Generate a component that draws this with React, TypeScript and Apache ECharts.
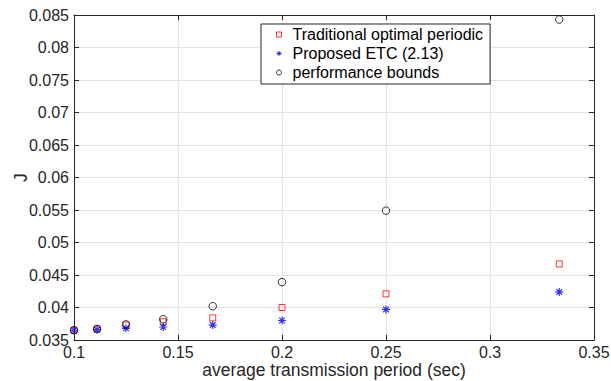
import React, { useEffect, useRef } from "react";
import * as echarts from "echarts";

const periods = [0.1, 0.1111, 0.125, 0.1429, 0.1667, 0.2, 0.25, 0.3333];
const traditional = [0.0365, 0.0367, 0.0373, 0.0378, 0.0384, 0.04, 0.0421, 0.0467];
const proposed = [0.0365, 0.0366, 0.0368, 0.037, 0.0373, 0.038, 0.0397, 0.0424];
const bounds = [0.0365, 0.0367, 0.0374, 0.0382, 0.0402, 0.0439, 0.0549, 0.0843];
const seriesNames = ["Traditional optimal periodic", "Proposed ETC (2.13)", "performance bounds"];

const STAR = "path://M0,-10L0,10M-10,0L10,0M-7.07,-7.07L7.07,7.07M-7.07,7.07L7.07,-7.07";
const FONT = "'Liberation Sans', Arial, Helvetica, sans-serif";
const AX = "#262626";

export default function App() {
  const ref = useRef<HTMLDivElement>(null);
  useEffect(() => {
    document.body.style.margin = "0";
    const chart = echarts.init(ref.current!, undefined, { renderer: "svg" });
    const pair = (ys: number[]) => periods.map((x, i) => [x, ys[i]]);
    const axisCommon = {
      type: "value" as const,
      axisLine: { show: true, lineStyle: { color: AX, width: 1 } },
      axisTick: { show: true, inside: true, length: 5, lineStyle: { color: AX, width: 1 } },
    };
    chart.setOption({
      animation: false,
      backgroundColor: "#ffffff",
      textStyle: { fontFamily: FONT },
      grid: { left: 74, right: 17, top: 15, bottom: 41, containLabel: false, outerBoundsMode: "none" },
      legend: {
        orient: "vertical",
        left: 261,
        top: 24,
        padding: [1, 7, 2, 15],
        itemWidth: 5,
        itemHeight: 5,
        itemGap: 0,
        backgroundColor: "#ffffff",
        borderColor: AX,
        borderWidth: 1,
        borderRadius: 0,
        textStyle: { fontFamily: FONT, fontSize: 16, color: "#000", lineHeight: 19, padding: [0, 0, 0, 6] },
        itemStyle: { borderWidth: 1 },
        data: [
          { name: seriesNames[0], icon: "rect" },
          { name: seriesNames[1], icon: STAR },
          { name: seriesNames[2], icon: "circle" },
        ],
      },
      xAxis: [
        {
          ...axisCommon,
          position: "bottom",
          min: 0.1,
          max: 0.35,
          interval: 0.05,
          name: "average transmission period (sec)",
          nameLocation: "middle",
          nameGap: 21,
          nameMoveOverlap: false,
          nameTextStyle: { fontFamily: FONT, fontSize: 17.5, color: AX },
          axisLabel: { show: true, margin: 5, fontSize: 16, lineHeight: 14, color: AX, fontFamily: FONT },
          splitLine: { show: true, lineStyle: { color: "#e3e3e3", width: 1 } },
        },
        {
          ...axisCommon,
          position: "top",
          min: 0.1,
          max: 0.35,
          interval: 0.05,
          axisLabel: { show: false },
          splitLine: { show: false },
        },
      ],
      yAxis: [
        {
          ...axisCommon,
          position: "left",
          min: 0.035,
          max: 0.085,
          interval: 0.005,
          name: "J",
          nameLocation: "middle",
          nameGap: 44,
          nameMoveOverlap: false,
          nameTextStyle: { fontFamily: FONT, fontSize: 17.5, color: AX },
          axisLabel: { show: true, margin: 5, fontSize: 16, lineHeight: 10, color: AX, fontFamily: FONT },
          splitLine: { show: true, lineStyle: { color: "#e3e3e3", width: 1 } },
        },
        {
          ...axisCommon,
          position: "right",
          min: 0.035,
          max: 0.085,
          interval: 0.005,
          axisLabel: { show: false },
          splitLine: { show: false },
        },
      ],
      series: [
        {
          name: seriesNames[0],
          type: "scatter",
          symbol: "rect",
          symbolSize: 6,
          itemStyle: { color: "rgba(255,255,255,0)", borderColor: "#ff0000", borderWidth: 1 },
          data: pair(traditional),
          z: 2,
        },
        {
          name: seriesNames[1],
          type: "scatter",
          symbol: STAR,
          symbolSize: 8,
          itemStyle: { color: "rgba(255,255,255,0)", borderColor: "#0000ff", borderWidth: 1.2 },
          data: pair(proposed),
          z: 3,
        },
        {
          name: seriesNames[2],
          type: "scatter",
          symbol: "circle",
          symbolSize: 7.5,
          itemStyle: { color: "rgba(255,255,255,0)", borderColor: "#000000", borderWidth: 1 },
          data: pair(bounds),
          z: 4,
        },
      ],
    });
    return () => chart.dispose();
  }, []);
  return <div ref={ref} style={{ width: 611, height: 381 }} />;
}
